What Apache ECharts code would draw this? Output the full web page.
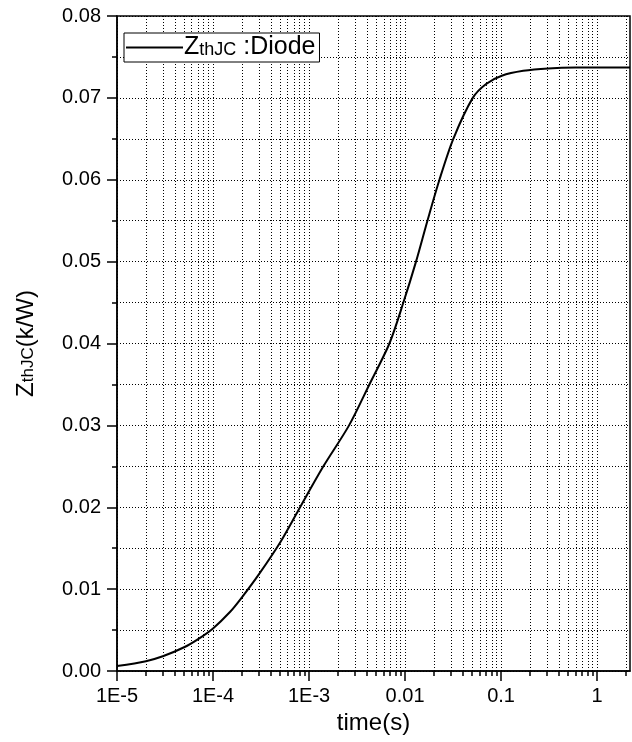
<!DOCTYPE html>
<html>
<head>
<meta charset="utf-8">
<script src="https://cdn.jsdelivr.net/npm/echarts@6/dist/echarts.min.js"></script>
<style>
html,body{margin:0;padding:0;background:#fff;}
#main{width:632px;height:742px;}
</style>
</head>
<body>
<div id="main"></div>
<script>
// Data
const timeS = [1e-5, 2e-5, 3e-5, 5e-5, 7e-5, 1e-4, 1.5e-4, 2e-4, 3e-4, 5e-4, 7.8e-4, 1.41e-3, 2.61e-3, 4.25e-3, 6.87e-3, 9.6e-3, 1.3e-2, 1.71e-2, 2.28e-2, 3.18e-2, 5.07e-2, 6.98e-2, 0.1016, 0.17, 0.31, 0.6, 1, 2.2];
const zthJC = [0.0006, 0.0012, 0.0018, 0.0029, 0.0039, 0.0052, 0.0072, 0.0090, 0.0118, 0.0157, 0.0197, 0.0250, 0.0300, 0.0350, 0.0400, 0.0450, 0.0500, 0.0550, 0.0600, 0.0650, 0.0700, 0.0717, 0.0727, 0.0733, 0.0736, 0.0737, 0.0737, 0.0737];
const xMajorTicks = [1e-5, 1e-4, 1e-3, 0.01, 0.1, 1];
const xMajorLabels = ['1E-5', '1E-4', '1E-3', '0.01', '0.1', '1'];
const xMinorTicks = [2e-5,3e-5,4e-5,5e-5,6e-5,7e-5,8e-5,9e-5,
  2e-4,3e-4,4e-4,5e-4,6e-4,7e-4,8e-4,9e-4,
  2e-3,3e-3,4e-3,5e-3,6e-3,7e-3,8e-3,9e-3,
  0.02,0.03,0.04,0.05,0.06,0.07,0.08,0.09,
  0.2,0.3,0.4,0.5,0.6,0.7,0.8,0.9,2];
const xMin = 1e-5, xMax = 2.2;
const yMin = 0, yMax = 0.08, yStep = 0.01;

const FONT = "'Liberation Sans', Arial, sans-serif";
const chart = echarts.init(document.getElementById('main'), null, {renderer: 'canvas'});
const dotted = {color: '#000', width: 1, type: [1, 2]};

const option = {
  backgroundColor: '#fff',
  animation: false,
  textStyle: {fontFamily: FONT},
  grid: {left: 117, right: 2, top: 16, bottom: 71, show: true, borderColor: '#000', borderWidth: 1.5, backgroundColor: 'transparent', outerBoundsMode: 'none'},
  legend: {
    left: 124, top: 33,
    backgroundColor: '#fff',
    borderColor: '#000', borderWidth: 1, borderRadius: 0,
    padding: [2, 4, 2, 2],
    itemWidth: 57, itemHeight: 2,
    icon: 'rect',
    itemStyle: {color: '#000'},
    textStyle: {
      fontFamily: FONT, color: '#000', padding: [0, 0, 0, -4],
      rich: {
        a: {fontSize: 25, fontFamily: FONT, color: '#000', verticalAlign: 'bottom'},
        b: {fontSize: 18, fontFamily: FONT, color: '#000', verticalAlign: 'bottom', padding: [0, 0, 1, 0]}
      }
    },
    formatter: function () { return '{a|Z}{b|thJC}{a| :Diode}'; },
    data: ['ZthJC :Diode']
  },
  xAxis: [{
    type: 'log', logBase: 10, min: xMin, max: xMax,
    position: 'bottom',
    name: 'time(s)', nameLocation: 'middle', nameGap: 40,
    nameTextStyle: {fontSize: 24, color: '#000', fontFamily: FONT},
    axisLine: {show: true, lineStyle: {color: '#000', width: 1.5}},
    axisTick: {show: true, inside: false, length: 10, lineStyle: {color: '#000', width: 1.5}, customValues: xMajorTicks},
    axisLabel: {show: true, color: '#000', fontSize: 20, margin: 15, fontFamily: FONT, customValues: xMajorTicks,
      formatter: function (v) { return xMajorLabels[Math.round(Math.log10(v)) + 5]; }},
    splitLine: {show: true, lineStyle: dotted},
    minorTick: {show: false}, minorSplitLine: {show: false}
  }, {
    type: 'log', logBase: 10, min: xMin, max: xMax,
    position: 'bottom', gridIndex: 0,
    axisLine: {show: false},
    axisTick: {show: true, inside: false, length: 5, lineStyle: {color: '#000', width: 1.5}, customValues: xMinorTicks},
    axisLabel: {show: false},
    splitLine: {show: true, lineStyle: dotted}
  }],
  yAxis: {
    type: 'value', min: yMin, max: yMax, interval: yStep,
    name: '{z|Z}{s|thJC}{z|(k/W)}', nameLocation: 'middle', nameGap: 79, nameRotate: 90,
    nameTextStyle: {
      color: '#000', fontFamily: FONT,
      rich: {
        z: {fontSize: 24, fontFamily: FONT, color: '#000', verticalAlign: 'bottom'},
        s: {fontSize: 17, fontFamily: FONT, color: '#000', verticalAlign: 'bottom', padding: [0, 0, 1, 0]}
      }
    },
    axisLine: {show: true, lineStyle: {color: '#000', width: 1.5}},
    axisTick: {show: true, inside: false, length: 10, lineStyle: {color: '#000', width: 1.5}},
    minorTick: {show: true, splitNumber: 2, length: 5, lineStyle: {color: '#000', width: 1.5}},
    axisLabel: {color: '#000', fontSize: 20, margin: 16, fontFamily: FONT, formatter: function (v) { return v.toFixed(2); }},
    splitLine: {show: true, lineStyle: dotted},
    minorSplitLine: {show: true, lineStyle: dotted}
  },
  series: [{
    name: 'ZthJC :Diode',
    type: 'line', xAxisIndex: 0,
    data: timeS.map(function (t, i) { return [t, zthJC[i]]; }),
    smooth: 0.3, symbol: 'none',
    lineStyle: {color: '#000', width: 2},
    itemStyle: {color: '#000'},
    z: 5
  }]
};
chart.setOption(option);
</script>
</body>
</html>
